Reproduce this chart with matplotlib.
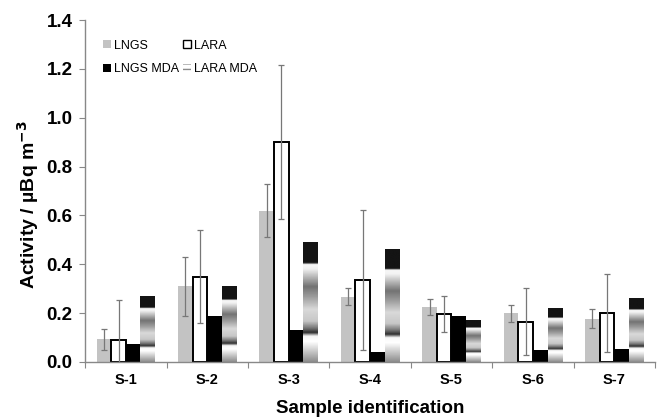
import numpy as np
import matplotlib
matplotlib.use("Agg")
import matplotlib.pyplot as plt
from matplotlib.patches import Patch

plt.rcParams["font.family"] = ["Liberation Sans", "DejaVu Sans"]

samples = ["S-1", "S-2", "S-3", "S-4", "S-5", "S-6", "S-7"]
lngs = [0.093, 0.31, 0.62, 0.268, 0.224, 0.20, 0.178]
lngs_err = [0.043, 0.12, 0.11, 0.034, 0.033, 0.035, 0.04]
lara = [0.09, 0.35, 0.90, 0.336, 0.197, 0.164, 0.20]
lara_err = [0.164, 0.19, 0.315, 0.285, 0.075, 0.137, 0.16]
lngs_mda = [0.072, 0.19, 0.13, 0.042, 0.19, 0.05, 0.055]
lara_mda = [0.27, 0.31, 0.49, 0.46, 0.17, 0.22, 0.262]


def gradient_column():
    # Excel-like banded gradient fill for LARA MDA bars (top -> bottom)
    t = np.linspace(0, 1, 200)
    knots = [0.0, 0.17, 0.185, 0.22, 0.37, 0.45, 0.56, 0.66, 0.72, 0.755, 0.785, 0.83, 1.0]
    vals = [0.08, 0.08, 0.97, 0.95, 0.45, 0.6, 0.85, 0.78, 0.45, 0.18, 0.97, 1.0, 0.55]
    return np.interp(t, knots, vals).reshape(-1, 1)


def main():
    fig = plt.figure(figsize=(6.65, 4.18), dpi=100)
    ax = fig.add_axes([0.128, 0.134, 0.857, 0.818])

    x = np.arange(len(samples))
    w = 0.18
    ekw = dict(ecolor="#777777", elinewidth=0.9, capsize=2.2, capthick=0.9)

    ax.bar(x - 1.5 * w, lngs, w, color="#c3c3c3", yerr=lngs_err,
           error_kw=ekw, zorder=2)
    ax.bar(x - 0.5 * w, lara, w, color="white", edgecolor="black",
           linewidth=1.4, yerr=lara_err, error_kw=ekw, zorder=2)
    ax.bar(x + 0.5 * w, lngs_mda, w, color="black", zorder=2)
    mda_bars = ax.bar(x + 1.5 * w, lara_mda, w, color="none",
                      linewidth=0, zorder=2)

    grad = gradient_column()
    for b in mda_bars:
        x0, y0 = b.get_x(), b.get_y()
        ax.imshow(grad, extent=[x0, x0 + b.get_width(), y0, y0 + b.get_height()],
                  aspect="auto", cmap="gray", vmin=0, vmax=1, zorder=2,
                  interpolation="bilinear")

    ax.set_xlim(-0.5, len(samples) - 0.5)
    ax.set_ylim(0, 1.4)
    ax.set_yticks(np.arange(0, 1.41, 0.2))
    ax.set_yticklabels([f"{v:.1f}" for v in np.arange(0, 1.41, 0.2)],
                       fontsize=13.5, fontweight="bold")
    ax.set_xticks(np.arange(-0.5, len(samples), 1.0))
    ax.set_xticklabels([])
    ax.set_xticks(x, minor=True)
    ax.set_xticklabels(samples, minor=True, fontsize=10.5, fontweight="bold")
    ax.tick_params(axis="x", which="minor", length=0, pad=8)
    ax.tick_params(axis="x", which="major", length=4, color="#888888")
    ax.tick_params(axis="y", length=4, color="#888888", pad=5)

    for s in ["top", "right"]:
        ax.spines[s].set_visible(False)
    for s in ["left", "bottom"]:
        ax.spines[s].set_color("#888888")
        ax.spines[s].set_linewidth(1.0)

    ax.set_xlabel("Sample identification", fontsize=13.5, fontweight="bold",
                  labelpad=9)
    ax.set_ylabel("Activity / \u00b5Bq m$^{\\mathbf{-3}}$", fontsize=14,
                  fontweight="bold")
    ax.yaxis.set_label_coords(-0.078, 0.46)

    handles = [
        Patch(facecolor="#c3c3c3", edgecolor="none", label="LNGS"),
        Patch(facecolor="black", edgecolor="none", label="LNGS MDA"),
        Patch(facecolor="white", edgecolor="black", linewidth=1.0, label="LARA"),
        Patch(facecolor="white", edgecolor="#8a8a8a", hatch="---",
              linewidth=0, label="LARA MDA"),
    ]
    ax.legend(handles=handles, ncol=2, loc="upper left",
              bbox_to_anchor=(0.012, 0.975), frameon=False, fontsize=9,
              handlelength=0.6, handleheight=0.6, handletextpad=0.25,
              columnspacing=0.35, labelspacing=0.9)

    fig.savefig("out.png", dpi=100)


if __name__ == "__main__":
    main()
